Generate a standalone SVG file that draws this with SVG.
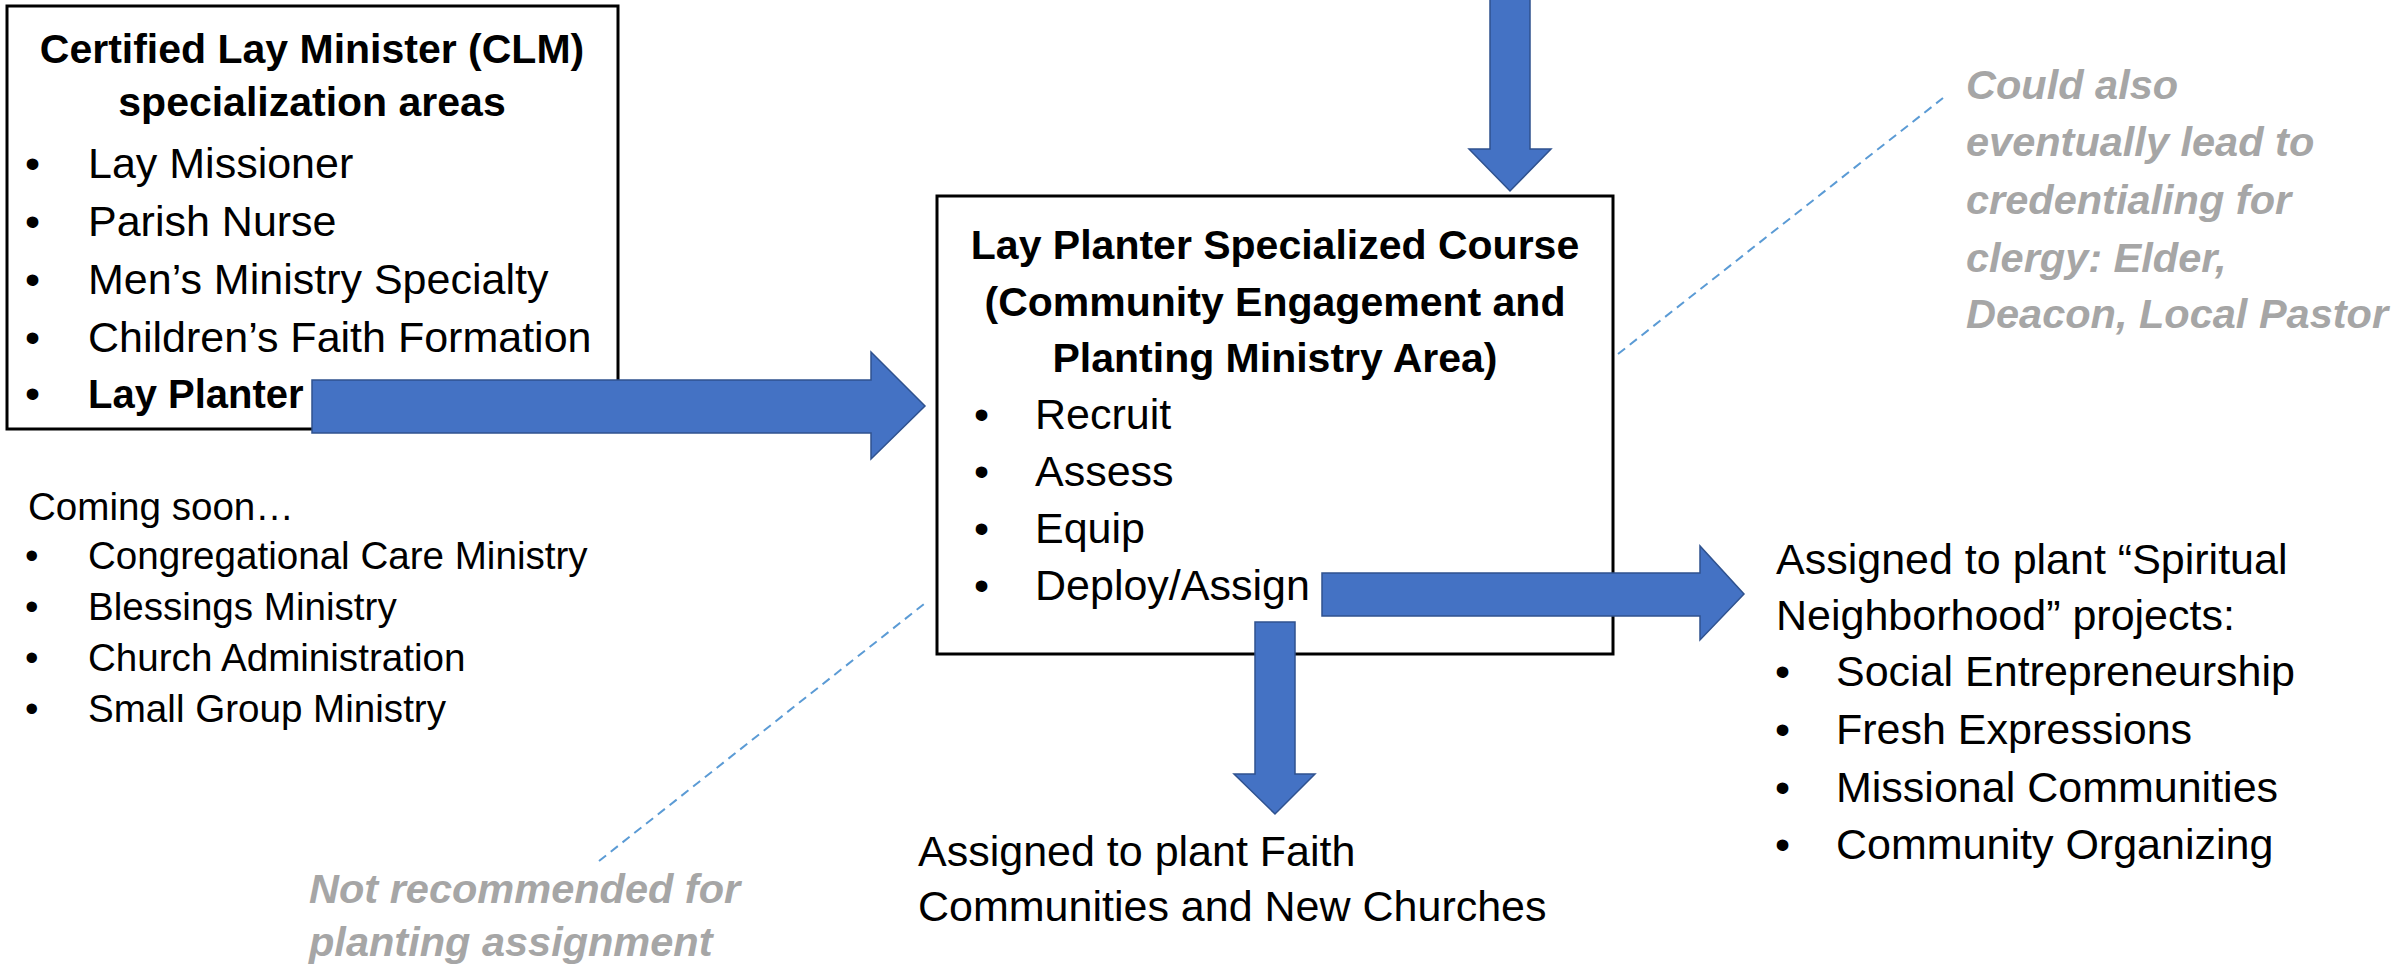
<svg xmlns="http://www.w3.org/2000/svg" width="2397" height="967" viewBox="0 0 2397 967">
<style>
text{font-family:"Liberation Sans",Arial,sans-serif;fill:#000}
.t{font-size:43px}
.b{font-size:41px;font-weight:bold}
.s{font-size:38.6px}
.g{font-size:41.5px;font-weight:bold;font-style:italic;fill:#A6A6A6}
.c{text-anchor:middle}
.box{fill:#fff;stroke:#000;stroke-width:3}
.arr{fill:#4472C4;stroke:#2F528F;stroke-width:1.5}
.dash{fill:none;stroke:#5B9BD5;stroke-width:2;stroke-dasharray:9 6}
</style>
<rect width="2397" height="967" fill="#fff"/>
<g id="clm-box">
<rect class="box" x="7" y="6" width="611" height="423"/>
<text class="b c" x="312" y="63">Certified Lay Minister (CLM)</text>
<text class="b c" x="312" y="116">specialization areas</text>
<text class="t" x="25" y="178">•</text><text class="t" x="88" y="178">Lay Missioner</text>
<text class="t" x="25" y="236">•</text><text class="t" x="88" y="236">Parish Nurse</text>
<text class="t" x="25" y="294">•</text><text class="t" x="88" y="294">Men’s Ministry Specialty</text>
<text class="t" x="25" y="352">•</text><text class="t" x="88" y="352">Children’s Faith Formation</text>
<text class="t" x="25" y="408">•</text><text x="88" y="408" font-size="40" font-weight="bold">Lay Planter</text>
</g>
<g id="coming-soon">
<text class="s" x="28" y="520">Coming soon…</text>
<text class="s" x="25" y="569">•</text><text class="s" x="88" y="569">Congregational Care Ministry</text>
<text class="s" x="25" y="620">•</text><text class="s" x="88" y="620">Blessings Ministry</text>
<text class="s" x="25" y="671">•</text><text class="s" x="88" y="671">Church Administration</text>
<text class="s" x="25" y="722">•</text><text class="s" x="88" y="722">Small Group Ministry</text>
</g>
<g id="course-box">
<rect class="box" x="937" y="196" width="676" height="458"/>
<text class="b c" x="1275" y="259">Lay Planter Specialized Course</text>
<text class="b c" x="1275" y="316">(Community Engagement and</text>
<text class="b c" x="1275" y="372">Planting Ministry Area)</text>
<text class="t" x="974" y="429">•</text><text class="t" x="1035" y="429">Recruit</text>
<text class="t" x="974" y="486">•</text><text class="t" x="1035" y="486">Assess</text>
<text class="t" x="974" y="543">•</text><text class="t" x="1035" y="543">Equip</text>
<text class="t" x="974" y="600">•</text><text class="t" x="1035" y="600">Deploy/Assign</text>
</g>
<g id="faith-communities">
<text class="t" x="918" y="866">Assigned to plant Faith</text>
<text class="t" x="918" y="921">Communities and New Churches</text>
</g>
<g id="spiritual-neighborhood">
<text class="t" x="1776" y="574">Assigned to plant “Spiritual</text>
<text class="t" x="1776" y="630">Neighborhood” projects:</text>
<text class="t" x="1775" y="686">•</text><text class="t" x="1836" y="686">Social Entrepreneurship</text>
<text class="t" x="1775" y="744">•</text><text class="t" x="1836" y="744">Fresh Expressions</text>
<text class="t" x="1775" y="802">•</text><text class="t" x="1836" y="802">Missional Communities</text>
<text class="t" x="1775" y="859">•</text><text class="t" x="1836" y="859">Community Organizing</text>
</g>
<g id="note-clergy">
<text class="g" x="1966" y="99">Could also</text>
<text class="g" x="1966" y="156">eventually lead to</text>
<text class="g" x="1966" y="214">credentialing for</text>
<text class="g" x="1966" y="272">clergy: Elder,</text>
<text class="g" x="1966" y="328">Deacon, Local Pastor</text>
</g>
<g id="note-not-recommended">
<text class="g" x="309" y="903">Not recommended for</text>
<text class="g" x="309" y="956">planting assignment</text>
</g>
<g id="connectors">
<path class="arr" d="M312,380 H871 V352 L925,406 L871,459 V433 H312 Z"/>
<path class="arr" d="M1490,-5 H1530 V149 H1551 L1510,191 L1469,149 H1490 Z"/>
<path class="arr" d="M1322,573 H1700 V546 L1744,594 L1700,640 V616 H1322 Z"/>
<path class="arr" d="M1255,622 H1295 V774 H1315 L1275,814 L1234,774 H1255 Z"/>
<line class="dash" x1="1618" y1="354" x2="1943" y2="98"/>
<line class="dash" x1="599" y1="861" x2="924" y2="604"/>
</g>
</svg>
